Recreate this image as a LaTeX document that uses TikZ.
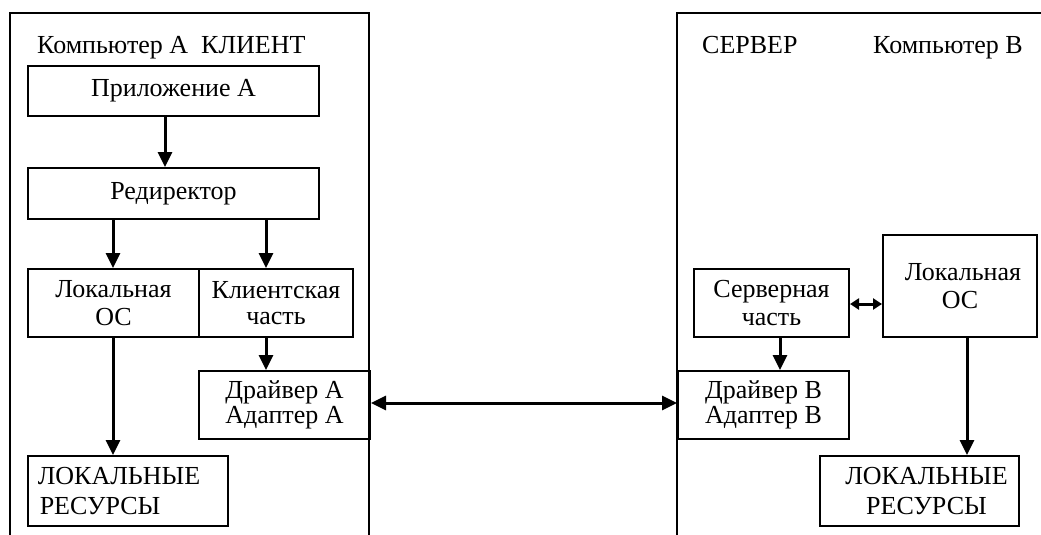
\documentclass[tikz,border=0pt]{standalone}
\usepackage{fontspec}
\setmainfont{Liberation Serif}
\usetikzlibrary{arrows.meta}
\begin{document}
\begin{tikzpicture}[x=1pt,y=-1pt,
  font=\fontsize{26}{28}\selectfont,
  blk/.style={draw, line width=2pt, inner sep=0pt, align=center, anchor=north west},
  frame/.style={line width=2pt},
  flow/.style={line width=3pt, -{Triangle[length=15pt,width=14pt]}},
  link/.style={line width=3pt, {Triangle[length=15pt,width=14pt]}-{Triangle[length=15pt,width=14pt]}},
  shortlink/.style={line width=3pt, {Triangle[length=9pt,width=11pt]}-{Triangle[length=9pt,width=11pt]}},
  head/.style={anchor=base west, inner sep=0pt}
]
\path[use as bounding box] (0,0) rectangle (1041,535);

% computer frames
\draw[frame] (10,540) -- (10,13) -- (369,13) -- (369,540);
\draw[frame] (677,540) -- (677,13) -- (1045,13);

% headings
\node[head] (hA) at (37,54) {Компьютер А\ \ КЛИЕНТ};
\node[head] (hS) at (702,54) {СЕРВЕР};
\node[head] (hB) at (873,54) {Компьютер В};

% client side
\node[blk, minimum width=291pt, minimum height=50pt] (app) at (27,65) {Приложение А};
\node[blk, minimum width=291pt, minimum height=51pt] (red) at (27,167) {Редиректор};
\node[blk, minimum width=171pt, minimum height=68pt] (osA) at (27,268) {Локальная\\ОС};
\node[blk, minimum width=154pt, minimum height=68pt, font=\fontsize{26}{26}\selectfont] (cli) at (198,268) {Клиентская\\часть};
\node[blk, minimum width=171pt, minimum height=68pt, font=\fontsize{26}{25}\selectfont] (drvA) at (198,370) {Драйвер А\\Адаптер А};
\node[blk, minimum width=200pt, minimum height=70pt, align=left, font=\fontsize{26}{30}\selectfont] (resA) at (27,455) {\hspace*{-18pt}ЛОКАЛЬНЫЕ\\\hspace*{-18pt}\hspace*{2pt}РЕСУРСЫ};

% server side
\node[blk, minimum width=155pt, minimum height=68pt, font=\fontsize{26}{28}\selectfont] (srv) at (693,268) {Серверная\\часть};
\node[blk, minimum width=154pt, minimum height=102pt] (osB) at (882,234) {\hspace*{6pt}Локальная\\ОС};
\node[blk, minimum width=171pt, minimum height=68pt, font=\fontsize{26}{25}\selectfont] (drvB) at (677,370) {Драйвер В\\Адаптер В};
\node[blk, minimum width=199pt, minimum height=70pt, font=\fontsize{26}{30}\selectfont] (resB) at (819,455) {\hspace*{14pt}ЛОКАЛЬНЫЕ\\\hspace*{14pt}РЕСУРСЫ};

% client flow
\draw[flow] (app.south -| 165,0) -- (red.north -| 165,0);
\draw[flow] (red.south -| 113,0) -- (osA.north -| 113,0);
\draw[flow] (red.south -| 266,0) -- (cli.north -| 266,0);
\draw[flow] (cli.south -| 266,0) -- (drvA.north -| 266,0);
\draw[flow] (osA.south -| 113,0) -- (resA.north -| 113,0);

% server flow
\draw[shortlink] (srv.east |- 0,304) -- (osB.west |- 0,304);
\draw[flow] (srv.south -| 780,0) -- (drvB.north -| 780,0);
\draw[flow] (osB.south -| 967,0) -- (resB.north -| 967,0);

% network link
\draw[link] (drvA.east |- 0,403) -- (drvB.west |- 0,403);
\end{tikzpicture}
\end{document}
